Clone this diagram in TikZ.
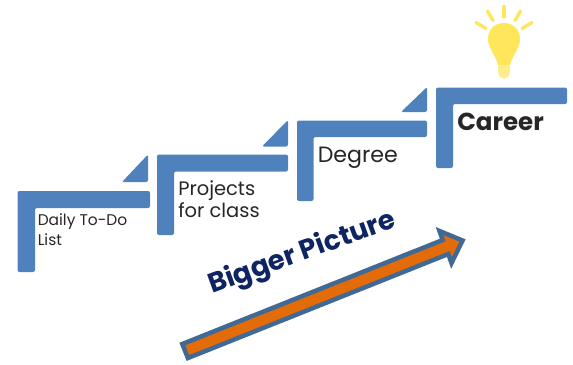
\documentclass[tikz,border=0pt]{standalone}
\usepackage{fontspec}
\setmainfont{Poppins}
\usetikzlibrary{positioning}
\definecolor{stepBlue}{RGB}{79,129,189}
\definecolor{arrowBlue}{RGB}{65,105,150}
\definecolor{arrowOrange}{RGB}{227,108,9}
\definecolor{titleNavy}{RGB}{15,36,98}
\definecolor{bulbYellow}{RGB}{255,230,90}
\definecolor{bulbBase}{RGB}{255,236,140}
\tikzset{
  stepshape/.style={fill=stepBlue, rounded corners=1.5},
  steplabel/.style={anchor=north west, inner sep=0pt, align=left, text=black!85},
  rayline/.style={bulbYellow, line width=3.4pt*0.75, line cap=round}
}
\begin{document}
\begin{tikzpicture}[x=0.75pt, y=-0.75pt]
  \useasboundingbox (0,0) rectangle (573,364);

  % Step one
  \fill[stepshape] (17.5,191) -- (150,191) -- (150,208) -- (35,208) -- (35,272) -- (17.5,272) -- cycle;
  \fill[stepshape] (148,154.5) -- (148,182) -- (122,182) -- cycle;
  \node[steplabel, font=\fontsize{11.6}{15.7}\selectfont] (daily) at (37.5,213) {Daily To-Do\\List};

  % Step two
  \fill[stepshape] (157,154.5) -- (288,154.5) -- (288,171.5) -- (174,171.5) -- (174,235) -- (157,235) -- cycle;
  \fill[stepshape] (288,120) -- (288,146.5) -- (262,146.5) -- cycle;
  \node[steplabel, font=\fontsize{14.6}{16.5}\selectfont] (projects) at (178,180) {Projects\\for class};

  % Step three
  \fill[stepshape] (297,120.5) -- (427,120.5) -- (427,137) -- (313.5,137) -- (313.5,201) -- (297,201) -- cycle;
  \fill[stepshape] (427,87) -- (427,112) -- (401,112) -- cycle;
  \node[steplabel, font=\fontsize{16.6}{20}\selectfont] (degree) at (317.5,147) {Degree};

  % Step four
  \fill[stepshape] (436,87.5) -- (567,87.5) -- (567,104) -- (453,104) -- (453,168) -- (436,168) -- cycle;
  \node[steplabel, font=\bfseries\fontsize{18.4}{22}\selectfont] (career) at (457,113) {Career};

  % Bulb
  \fill[bulbYellow] (498,65) .. controls (496,56) and (488,48) .. (488,39)
    .. controls (488,29) and (495,23) .. (504,23)
    .. controls (513,23) and (520,29) .. (520,39)
    .. controls (520,48) and (512,56) .. (510,65) -- cycle;
  \fill[bulbBase, rounded corners=1.5] (498,65) -- (510,65) -- (510,74) -- (507,78.5) -- (501,78.5) -- (498,74) -- cycle;
  \draw[rayline] (504,6.5) -- (504,17);
  \draw[rayline] (487.5,11) -- (493,20.5);
  \draw[rayline] (520.5,11) -- (515,20.5);
  \draw[rayline] (476,22.5) -- (486,28.5);
  \draw[rayline] (532,22.5) -- (522,28.5);

  % Arrow
  \draw[fill=arrowOrange, draw=arrowBlue, line width=4.5pt*0.75, miter limit=10]
    (182.3,344) -- (442.7,240) -- (439.5,231) -- (462.5,240.5) -- (451.5,263) -- (448.3,254) -- (187.9,358) -- cycle;
  \node[font=\bfseries\fontsize{20.5}{24}\selectfont, text=titleNavy, rotate=20] (bigger) at (302.5,253.5) {Bigger Picture};
\end{tikzpicture}
\end{document}
